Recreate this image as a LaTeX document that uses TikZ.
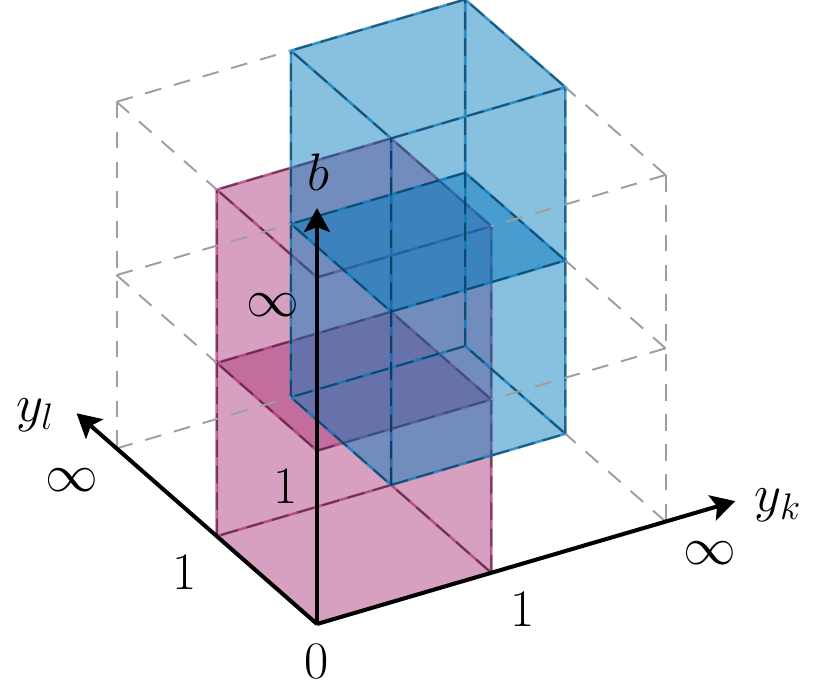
\RequirePackage{fix-cm}
\documentclass[tikz,border=0pt]{standalone}
\usetikzlibrary{arrows.meta}
\definecolor{tolblue}{HTML}{0077BB}
\definecolor{tolpurple}{HTML}{AA3377}
\tikzset{
  facefill/.style={fill opacity=0.27},
  gridline/.style={draw=black!38, line width=1.1pt, dash pattern=on 9.5pt off 7.5pt},
  boxline/.style={line width=1.5pt, draw opacity=0.7},
  boxdash/.style={draw=black, draw opacity=0.4, line width=1.1pt, dash pattern=on 10pt off 5pt},
  axisline/.style={line width=2.3pt, -{Stealth[length=0.48cm,width=0.52cm,inset=0.1cm]}},
  lbl/.style={inner sep=0pt, font=\fontsize{30}{36}\selectfont},
}
\newcommand\cubefaces[2]{%
  \begin{scope}[shift={(#1)}]
    \fill[#2,facefill] (0,0,0)--(1,0,0)--(1,1,0)--(0,1,0)--cycle;
    \fill[#2,facefill] (0,0,1)--(1,0,1)--(1,1,1)--(0,1,1)--cycle;
    \fill[#2,facefill] (0,0,0)--(1,0,0)--(1,0,1)--(0,0,1)--cycle;
    \fill[#2,facefill] (0,1,0)--(1,1,0)--(1,1,1)--(0,1,1)--cycle;
    \fill[#2,facefill] (0,0,0)--(0,1,0)--(0,1,1)--(0,0,1)--cycle;
    \fill[#2,facefill] (1,0,0)--(1,1,0)--(1,1,1)--(1,0,1)--cycle;
  \end{scope}}
\newcommand\boxedges[2]{%
  \begin{scope}[shift={(#1)}]
    \draw[boxline,draw=#2] (0,0,0)--(1,0,0)--(1,1,0)--(0,1,0)--cycle
      (0,0,1)--(1,0,1)--(1,1,1)--(0,1,1)--cycle
      (0,0,2)--(1,0,2)--(1,1,2)--(0,1,2)--cycle
      (0,0,0)--(0,0,2) (1,0,0)--(1,0,2) (1,1,0)--(1,1,2) (0,1,0)--(0,1,2);
    \draw[boxdash] (0,0,0)--(1,0,0)--(1,1,0)--(0,1,0)--cycle
      (0,0,1)--(1,0,1)--(1,1,1)--(0,1,1)--cycle
      (0,0,2)--(1,0,2)--(1,1,2)--(0,1,2)--cycle
      (0,0,0)--(0,0,2) (1,0,0)--(1,0,2) (1,1,0)--(1,1,2) (0,1,0)--(0,1,2);
  \end{scope}}
\begin{document}
\begin{tikzpicture}
\useasboundingbox (-6.34cm,-1.42cm) rectangle (10.08cm,12.48cm);
\begin{scope}[x={(3.486cm,1.024cm)}, y={(-2.004cm,1.756cm)}, z={(0cm,3.466cm)}]
  % pink box
  \cubefaces{0,0,0}{tolpurple}
  \cubefaces{0,0,1}{tolpurple}
  \boxedges{0,0,0}{tolpurple}
  % blue box
  \cubefaces{1,1,0}{tolblue}
  \cubefaces{1,1,1}{tolblue}
  \boxedges{1,1,0}{tolblue}
  % grey frame
  \draw[gridline] (0,2,2)--(1,2,2);
  \draw[gridline] (0,2,2)--(0,1,2);
  \draw[gridline] (0,2,2)--(0,2,0);
  \draw[gridline] (0,2,1)--(1,2,1);
  \draw[gridline] (0,2,1)--(0,1,1);
  \draw[gridline] (0,2,0)--(1,2,0);
  \draw[gridline] (2,0,2)--(2,1,2);
  \draw[gridline] (2,0,2)--(1,0,2);
  \draw[gridline] (2,0,2)--(2,0,0);
  \draw[gridline] (2,0,1)--(2,1,1);
  \draw[gridline] (2,0,1)--(1,0,1);
  \draw[gridline] (2,0,0)--(2,1,0);
  % axes
  \coordinate (O) at (0,0,0);
  \coordinate (kend) at (2.4,0,0);
  \coordinate (lend) at (0,2.4,0);
  \coordinate (bend) at (0,0,2.4);
  \draw[axisline] (O) -- (kend);
  \draw[axisline] (O) -- (lend);
  \draw[axisline] (O) -- (bend);
\end{scope}
% labels
\node[lbl] (lb) at (0.02cm,9.04cm) {$b$};
\node[lbl] (lk) at (9.22cm,2.38cm) {$y_k$};
\node[lbl] (ll) at (-5.64cm,4.18cm) {$y_l$};
\node[lbl] (l0) at (0cm,-0.76cm) {$0$};
\node[lbl] (l1l) at (-2.64cm,1.02cm) {$1$};
\node[lbl] (linfl) at (-4.9cm,2.88cm) {$\infty$};
\node[lbl] (l1b) at (-0.62cm,2.74cm) {$1$};
\node[lbl] (linfb) at (-0.88cm,6.38cm) {$\infty$};
\node[lbl] (l1k) at (4.12cm,0.28cm) {$1$};
\node[lbl] (linfk) at (7.86cm,1.42cm) {$\infty$};
\end{tikzpicture}
\end{document}
